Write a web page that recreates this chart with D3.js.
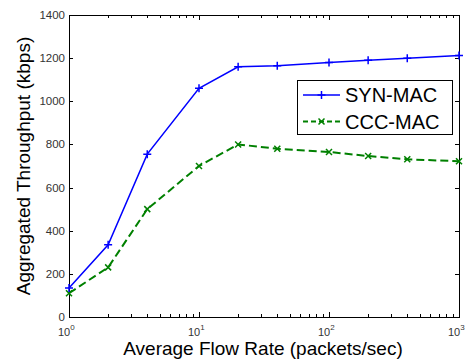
<!DOCTYPE html>
<html>
<head>
<meta charset="utf-8">
<script src="https://cdn.jsdelivr.net/npm/d3@7"></script>
<style>
  body { margin: 0; background: #fff; }
  text { font-family: Arial, "Liberation Sans", sans-serif; }
</style>
</head>
<body>
<div class="chart"></div>
<script>
var width = 465;
var height = 362;

// flow rates (packets/sec) and throughput (kbps)
var rates = [1, 2, 4, 10, 20, 40, 100, 200, 400, 1000];
var synMac = [135, 335, 755, 1060, 1160, 1165, 1180, 1190, 1200, 1212];
var cccMac = [110, 230, 500, 700, 800, 780, 765, 746, 731, 722];
var yTicks = [0, 200, 400, 600, 800, 1000, 1200, 1400];
var xDecades = [0, 1, 2, 3];

// plot box (note: "top" is reserved on window, so use px names)
var pxL = 69, pxR = 459, pxT = 15, pxB = 317;

var svg = d3.select(".chart").append("svg")
    .attr("width", width)
    .attr("height", height);

var x = d3.scaleLog().domain([1, 1000]).range([pxL, pxR]);
var y = d3.scaleLinear().domain([0, 1400]).range([pxB, pxT]);

// ticks (MATLAB style, pointing inward on all four sides)
var tickg = svg.append("g").attr("stroke", "#000").attr("stroke-width", 1);

yTicks.forEach(function(v) {
  var yy = Math.round(y(v)) + 0.5;
  tickg.append("line").attr("x1", pxL).attr("x2", pxL + 4).attr("y1", yy).attr("y2", yy);
  tickg.append("line").attr("x1", pxR - 4).attr("x2", pxR).attr("y1", yy).attr("y2", yy);
});

var minor = [];
for (var d = 0; d < 3; d++) {
  for (var k = 2; k <= 9; k++) minor.push(k * Math.pow(10, d));
}
minor.forEach(function(v) {
  var xx = Math.round(x(v)) + 0.5;
  tickg.append("line").attr("x1", xx).attr("x2", xx).attr("y1", pxB).attr("y2", pxB - 3);
  tickg.append("line").attr("x1", xx).attr("x2", xx).attr("y1", pxT).attr("y2", pxT + 3);
});
xDecades.forEach(function(p) {
  var xx = Math.round(x(Math.pow(10, p))) + 0.5;
  tickg.append("line").attr("x1", xx).attr("x2", xx).attr("y1", pxB).attr("y2", pxB - 5);
  tickg.append("line").attr("x1", xx).attr("x2", xx).attr("y1", pxT).attr("y2", pxT + 5);
});

// box
svg.append("rect")
    .attr("x", pxL + 0.5).attr("y", pxT + 0.5)
    .attr("width", pxR - pxL).attr("height", pxB - pxT)
    .attr("fill", "none").attr("stroke", "#000");

// y tick labels
svg.append("g").selectAll("text")
    .data(yTicks)
  .enter().append("text")
    .attr("x", pxL - 4)
    .attr("y", function(d) { return y(d) + 4; })
    .attr("text-anchor", "end")
    .attr("font-size", 11.5)
    .attr("fill", "#333")
    .text(function(d) { return d; });

// x tick labels 10^n
var xl = svg.append("g").selectAll("text")
    .data(xDecades)
  .enter().append("text")
    .attr("x", function(d) { return x(Math.pow(10, d)) - 11; })
    .attr("y", 336)
    .attr("font-size", 11)
    .attr("fill", "#333");
xl.append("tspan").text("10");
xl.append("tspan").attr("dy", -6).attr("font-size", 8).text(function(d) { return d; });

// axis titles
svg.append("text")
    .attr("x", (pxL + pxR) / 2 - 1)
    .attr("y", 355)
    .attr("text-anchor", "middle")
    .attr("font-size", 19)
    .text("Average Flow Rate (packets/sec)");

svg.append("text")
    .attr("transform", "translate(30," + 166 + ") rotate(-90)")
    .attr("text-anchor", "middle")
    .attr("font-size", 19)
    .text("Aggregated Throughput (kbps)");

// lines
var synData = rates.map(function(r, i) { return [r, synMac[i]]; });
var cccData = rates.map(function(r, i) { return [r, cccMac[i]]; });

var line = d3.line()
    .x(function(d) { return x(d[0]); })
    .y(function(d) { return y(d[1]); });

svg.append("path")
    .datum(cccData)
    .attr("d", line)
    .attr("fill", "none")
    .attr("stroke", "#008000")
    .attr("stroke-width", 2)
    .attr("stroke-dasharray", "8,4");

svg.append("g").selectAll("path")
    .data(cccData)
  .enter().append("path")
    .attr("d", function(d) {
      var cx = x(d[0]), cy = y(d[1]), s = 3;
      return "M" + (cx - s) + "," + (cy - s) + "L" + (cx + s) + "," + (cy + s) +
             "M" + (cx - s) + "," + (cy + s) + "L" + (cx + s) + "," + (cy - s);
    })
    .attr("stroke", "#008000")
    .attr("stroke-width", 1.5);

svg.append("path")
    .datum(synData)
    .attr("d", line)
    .attr("fill", "none")
    .attr("stroke", "#0000ff")
    .attr("stroke-width", 1.5);

svg.append("g").selectAll("path")
    .data(synData)
  .enter().append("path")
    .attr("d", function(d) {
      var cx = x(d[0]), cy = y(d[1]), s = 4;
      return "M" + (cx - s) + "," + cy + "L" + (cx + s) + "," + cy +
             "M" + cx + "," + (cy - s) + "L" + cx + "," + (cy + s);
    })
    .attr("stroke", "#0000ff")
    .attr("stroke-width", 1.5);

// legend
var lg = svg.append("g");
lg.append("rect")
    .attr("x", 297.5).attr("y", 80.5)
    .attr("width", 155).attr("height", 54)
    .attr("fill", "#fff").attr("stroke", "#000");

lg.append("line")
    .attr("x1", 303).attr("x2", 340).attr("y1", 95).attr("y2", 95)
    .attr("stroke", "#0000ff").attr("stroke-width", 1.5);
lg.append("path")
    .attr("d", "M317.5,95L325.5,95M321.5,91L321.5,99")
    .attr("stroke", "#0000ff").attr("stroke-width", 1.5);
lg.append("text").attr("x", 345).attr("y", 102).attr("font-size", 20).text("SYN-MAC");

lg.append("line")
    .attr("x1", 303).attr("x2", 340).attr("y1", 121.5).attr("y2", 121.5)
    .attr("stroke", "#008000").attr("stroke-width", 2)
    .attr("stroke-dasharray", "5,3");
lg.append("path")
    .attr("d", "M318.5,118.5L324.5,124.5M318.5,124.5L324.5,118.5")
    .attr("stroke", "#008000").attr("stroke-width", 1.5);
lg.append("text").attr("x", 345).attr("y", 129).attr("font-size", 20).text("CCC-MAC");
</script>
</body>
</html>
